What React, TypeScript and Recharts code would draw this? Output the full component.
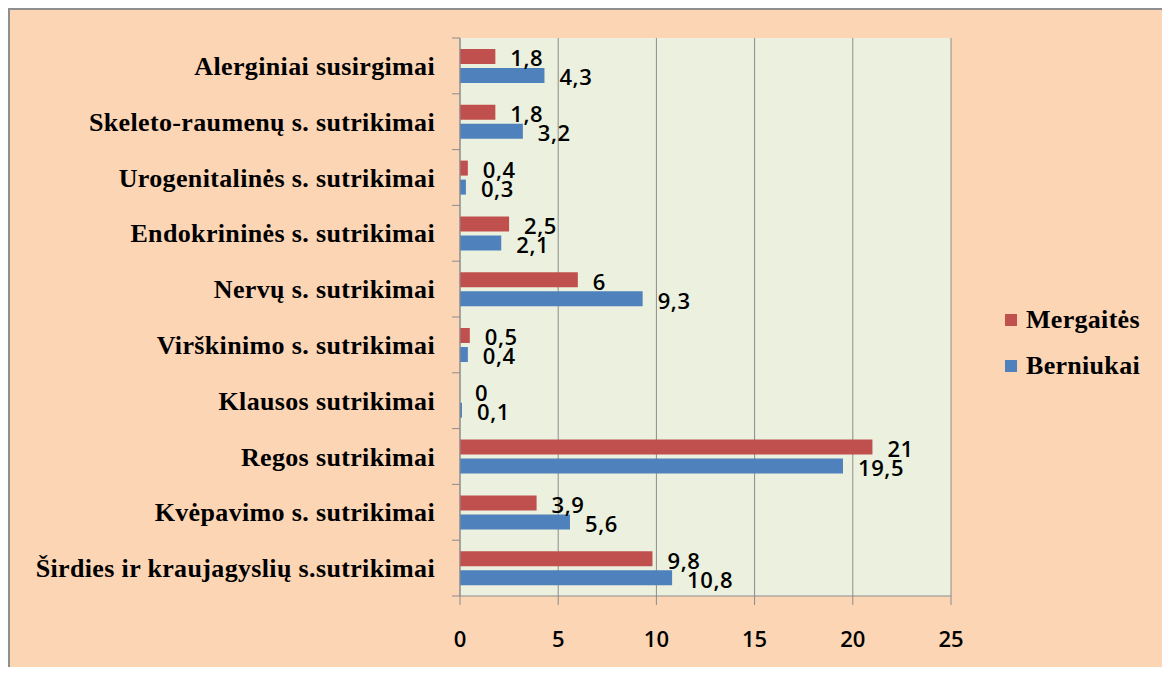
import React from "react";
import { BarChart, Bar, XAxis, YAxis, CartesianGrid, LabelList } from "recharts";

const categories = [
  "Alerginiai susirgimai",
  "Skeleto-raumenų s. sutrikimai",
  "Urogenitalinės s. sutrikimai",
  "Endokrininės s. sutrikimai",
  "Nervų s. sutrikimai",
  "Virškinimo s. sutrikimai",
  "Klausos sutrikimai",
  "Regos sutrikimai",
  "Kvėpavimo s. sutrikimai",
  "Širdies ir kraujagyslių s.sutrikimai",
];
const mergaites = [1.8, 1.8, 0.4, 2.5, 6, 0.5, 0, 21, 3.9, 9.8];
const berniukai = [4.3, 3.2, 0.3, 2.1, 9.3, 0.4, 0.1, 19.5, 5.6, 10.8];
const xTicks = [0, 5, 10, 15, 20, 25];

const series = [
  { key: "mergaites", name: "Mergaitės", color: "#C0504D" },
  { key: "berniukai", name: "Berniukai", color: "#4F81BD" },
];

const data = categories.map((name, i) => ({
  name,
  mergaites: mergaites[i],
  berniukai: berniukai[i],
}));

const AXIS = "#8C8C8C";
const SERIF = '"Liberation Serif", "Times New Roman", serif';
const SANS = '"Open Sans", "DejaVu Sans", sans-serif';
const Y_TICK_SIZE = 8;
const Y_TICK_MARGIN = 17;

const fmt = (v: number) => String(v).replace(".", ",");

const CategoryTick = (props: any) => {
  const { x, y, payload, index, visibleTicksCount } = props;
  const half = payload?.offset ?? 0;
  const axisX = x + Y_TICK_SIZE + Y_TICK_MARGIN;
  return (
    <g>
      <line x1={axisX - Y_TICK_SIZE} x2={axisX} y1={y - half} y2={y - half} stroke={AXIS} />
      {index === visibleTicksCount - 1 && (
        <line x1={axisX - Y_TICK_SIZE} x2={axisX} y1={y + half} y2={y + half} stroke={AXIS} />
      )}
      <text
        x={x}
        y={y}
        dy="0.35em"
        textAnchor="end"
        fill="#000"
        style={{ fontFamily: SERIF, fontSize: 26, fontWeight: 700, letterSpacing: 0.35 }}
      >
        {payload.value}
      </text>
    </g>
  );
};

const renderValueLabel = (props: any) => {
  const { x, y, width, height, value } = props;
  return (
    <text
      x={x + width + 15}
      y={y + height / 2 + 2}
      dy="0.36em"
      textAnchor="start"
      fill="#000"
      style={{ fontFamily: SANS, fontSize: 22, fontWeight: 600, letterSpacing: 0.6 }}
    >
      {fmt(value)}
    </text>
  );
};

const tinyForZero = (v: any) => (v === 0 ? 0.01 : 0);

export default function App() {
  return (
    <div
      style={{
        position: "relative",
        width: 1160,
        height: 669,
        boxSizing: "border-box",
        border: "2px solid #8F8F8F",
        borderBottom: "none",
        background: "#FCD5B5",
        marginBottom: -10,
      }}
    >
      <BarChart
        width={1156}
        height={667}
        data={data}
        layout="vertical"
        margin={{ top: 28, right: 215, bottom: 21, left: 0 }}
        barSize={15}
        barGap={4}
      >
        <CartesianGrid horizontal={false} vertical={true} stroke={AXIS} fill="#EBF1DE" />
        <XAxis
          type="number"
          domain={[0, 25]}
          ticks={xTicks}
          interval={0}
          height={60}
          stroke={AXIS}
          tickSize={9}
          tickMargin={26}
          tick={{ fill: "#000", fontFamily: SANS, fontSize: 22, fontWeight: 600 }}
        />
        <YAxis
          type="category"
          dataKey="name"
          width={450}
          stroke={AXIS}
          tickLine={false}
          tickSize={Y_TICK_SIZE}
          tickMargin={Y_TICK_MARGIN}
          interval={0}
          tick={<CategoryTick />}
        />
        {series.map((s) => (
          <Bar
            key={s.key}
            dataKey={s.key}
            name={s.name}
            fill={s.color}
            minPointSize={tinyForZero}
            isAnimationActive={false}
          >
            <LabelList dataKey={s.key} content={renderValueLabel} />
          </Bar>
        ))}
      </BarChart>
      <div style={{ position: "absolute", left: 995, top: 287 }}>
        {series.map((s) => (
          <div key={s.key} style={{ display: "flex", alignItems: "center", height: 46 }}>
            <div style={{ width: 12, height: 12, background: s.color, marginRight: 9 }} />
            <span style={{ fontFamily: SERIF, fontSize: 26, fontWeight: 700, color: "#000", letterSpacing: 0.3 }}>
              {s.name}
            </span>
          </div>
        ))}
      </div>
    </div>
  );
}
